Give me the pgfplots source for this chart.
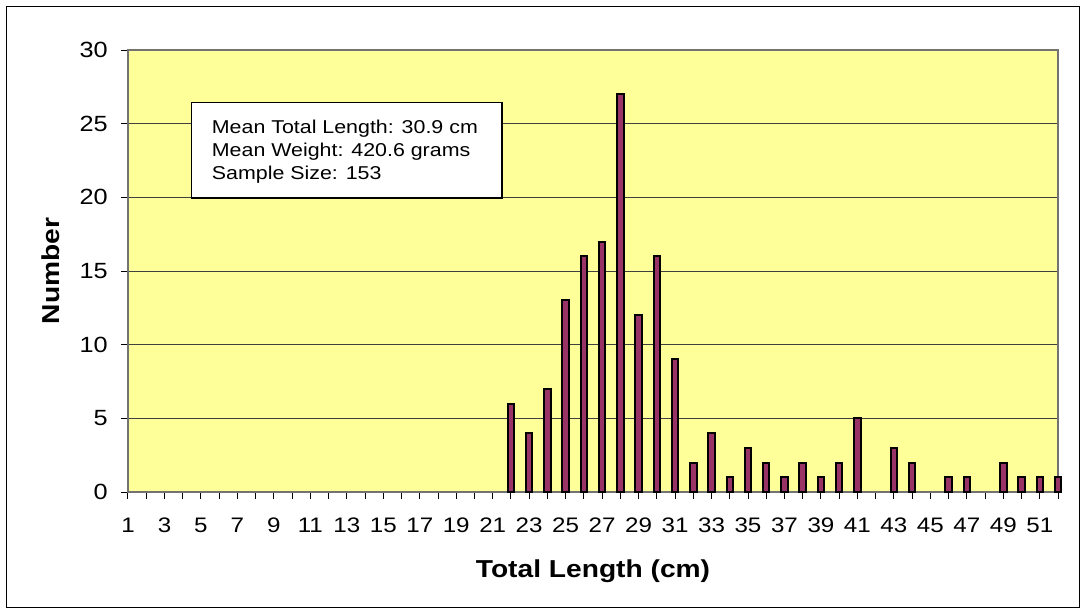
\documentclass[border=0pt]{standalone}
\usepackage{fontspec}
\setmainfont[FakeStretch=1.15]{Liberation Sans}
\usepackage{pgfplots}
\pgfplotsset{compat=1.18}
\definecolor{plotbg}{HTML}{FFFF99}
\definecolor{barfill}{HTML}{993366}
\begin{document}
\begin{tikzpicture}
\useasboundingbox (-128pt,-122pt) rectangle (958pt,492pt);
\draw[black, line width=1pt] (-121pt,-115pt) rectangle (951pt,485pt);
\begin{axis}[
  at={(0pt,0pt)}, anchor=south west,
  scale only axis, width=930pt, height=442pt,
  xmin=1, xmax=52, ymin=0, ymax=30,
  clip=false,
  axis background/.style={fill=plotbg},
  axis line style={draw=black!55, line width=1.5pt},
  tick align=outside,
  xtick pos=bottom, ytick pos=left,
  xtick={1,3,...,51}, minor xtick={2,4,...,52},
  ytick={0,5,...,30},
  major tick length=7pt, minor tick length=7pt,
  tick style={black, line width=1pt},
  ymajorgrids, grid style={black!75, line width=0.8pt},
  /pgf/number format/assume math mode=true,
  xticklabel style={font=\fontsize{21}{25}\selectfont, inner sep=0pt, anchor=north, yshift=-19pt},
  yticklabel style={font=\fontsize{22}{26}\selectfont, inner sep=0pt, anchor=east, xshift=-13pt},
  xlabel={Total Length (cm)},
  ylabel={Number},
  every axis x label/.style={at={(axis description cs:0.5,0)}, anchor=base, yshift=-85pt, font=\bfseries\fontsize{24.5}{28}\selectfont, inner sep=0pt},
  every axis y label/.style={at={(axis description cs:0,0.5)}, rotate=90, anchor=base, yshift=68pt, font=\bfseries\fontsize{24.5}{28}\selectfont, inner sep=0pt},
]
\addplot[ybar, bar width=6.5pt, fill=barfill, draw=black, line width=2pt] coordinates {
(22,6) (23,4) (24,7) (25,13) (26,16) (27,17) (28,27) (29,12) (30,16) (31,9)
(32,2) (33,4) (34,1) (35,3) (36,2) (37,1) (38,2) (39,1) (40,2) (41,5)
(43,3) (44,2) (46,1) (47,1) (49,2) (50,1) (51,1) (52,1)
};
\draw[fill=white, draw=black, line width=1.5pt] (axis cs:4.49,19.96) rectangle (axis cs:21.51,26.42);
\node[anchor=base west, inner sep=0pt, font=\fontsize{18.6}{22}\selectfont] at (axis cs:5.59,24.35) {Mean Total Length: 30.9 cm};
\node[anchor=base west, inner sep=0pt, font=\fontsize{18.6}{22}\selectfont] at (axis cs:5.59,22.76) {Mean Weight: 420.6 grams};
\node[anchor=base west, inner sep=0pt, font=\fontsize{18.6}{22}\selectfont] at (axis cs:5.59,21.18) {Sample Size: 153};
\end{axis}
\end{tikzpicture}
\end{document}
